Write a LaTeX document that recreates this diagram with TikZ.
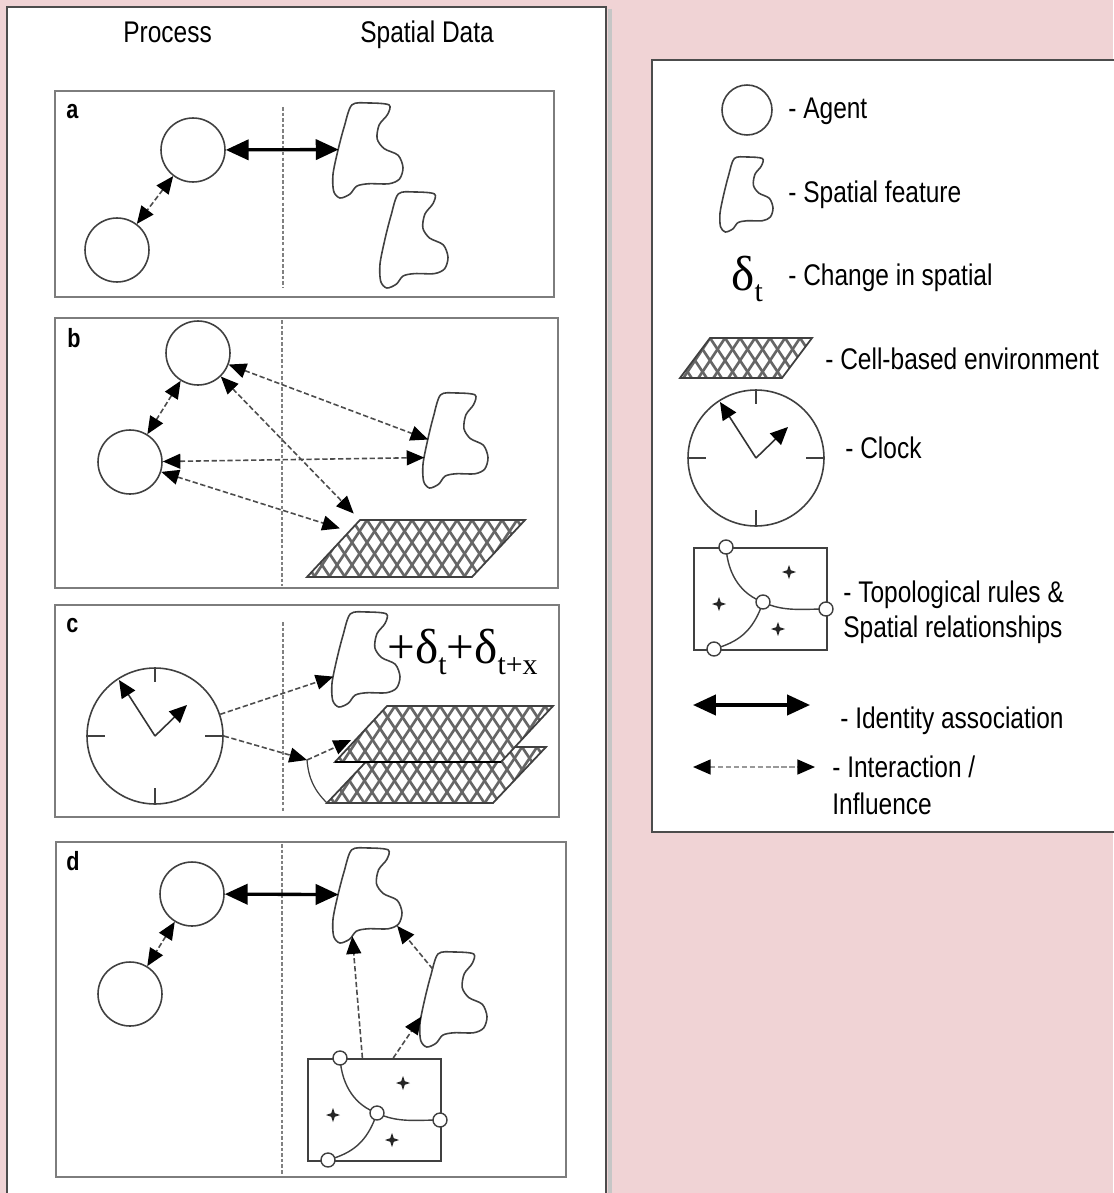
\documentclass[tikz,border=0pt]{standalone}
\usepackage{fontspec}
\setmainfont{Liberation Sans}[FakeStretch=0.82]
\newfontfamily\grkfont{Liberation Serif}
\usetikzlibrary{arrows.meta}

\definecolor{bgpink}{RGB}{240,211,213}
\definecolor{rimgray}{RGB}{125,125,125}
\newcommand\lowsub[1]{\raisebox{-0.24em}{\fontsize{17}{17}\selectfont #1}}

\tikzset{
  panel/.style={draw=rimgray, line width=1.4pt},
  divider/.style={draw=gray, line width=0.6pt, dash pattern=on 2pt off 1.2pt},
  agent/.style={circle, draw=black!75, line width=0.9pt, minimum size=1.28cm, inner sep=0pt},
  clockface/.style={circle, draw=black!75, line width=0.9pt, minimum size=2.72cm, inner sep=0pt},
  knot/.style={circle, draw=black!75, fill=white, line width=0.8pt, minimum size=0.28cm, inner sep=0pt},
  ident/.style={line width=1.9pt, {Triangle[length=13pt,width=11.5pt]}-{Triangle[length=13pt,width=11.5pt]}},
  influ/.style={line width=0.9pt, black!70, dash pattern=on 3pt off 1.5pt},
  onehead/.style={-{Triangle[length=10pt,width=8.5pt,black]}},
  twoheads/.style={{Triangle[length=10pt,width=8.5pt,black]}-{Triangle[length=10pt,width=8.5pt,black]}},
  lbl/.style={anchor=base west, inner sep=0pt, font=\fontsize{17}{20}\selectfont},
  paneltag/.style={anchor=base west, inner sep=0pt, font=\fontsize{15}{18}\selectfont\bfseries},
  pics/feature/.style 2 args={code={
    \begin{scope}[xscale=#1, yscale=#2]
      \draw[black!75, line width=0.9pt] plot[smooth cycle] coordinates {(0.27,0.02) (0.51,0.0) (0.80,0.02) (0.78,0.12) (0.66,0.23) (0.63,0.375) (0.73,0.48) (0.93,0.55) (1.0,0.68) (0.95,0.80) (0.80,0.85) (0.51,0.85) (0.34,0.875) (0.24,0.96) (0.10,1.0) (0.01,0.93) (0.0,0.75) (0.07,0.5) (0.16,0.25)};
      \coordinate (-l) at (0.08,0.49);
      \coordinate (-ll) at (0.02,0.68);
      \coordinate (-ul) at (0.19,0.18);
      \coordinate (-b) at (0.28,0.93);
      \coordinate (-br) at (0.93,0.82);
    \end{scope}
  }},
  pics/cellgrid/.style n args={3}{code={
    \begin{scope}
      \clip (0,#2) -- (#3,0) -- ({#3+#1},0) -- (#1,#2) -- cycle;
      \fill[white] (0,0) rectangle ({#1+#3},#2);
      \foreach \i in {-60,-45,...,330}
        \draw[black!60, line width=1.5pt] (\i,0) -- ++(50,75) (\i,0) -- ++(-50,75);
    \end{scope}
    \draw[black!75, line width=1pt] (0,#2) -- (#3,0) -- ({#3+#1},0) -- (#1,#2) -- cycle;
    \coordinate (-nw) at (#3,0);
    \coordinate (-w) at ({0.8*#3},{0.2*#2});
    \coordinate (-wm) at ({0.45*#3},{0.55*#2});
    \coordinate (-sw) at (0,#2);
  }},
  pics/clock/.style={code={
    \node[clockface] (-face) at (0,0) {};
    \draw[black!75, line width=0.9pt] (0,-68) -- (0,-54) (0,68) -- (0,52) (-68,0) -- (-50,0) (68,0) -- (50,0);
    \draw[black!80, line width=0.9pt, -{Triangle[length=10pt,width=9pt,black]}] (0,0) -- (-36,-56);
    \draw[black!80, line width=0.9pt, -{Triangle[length=10pt,width=9pt,black]}] (0,0) -- (32,-31);
  }},
  pics/topo/.style={code={
    \node[draw=black!75, line width=1pt, minimum width=2.66cm, minimum height=2.04cm, inner sep=0pt, anchor=north west] (-box) at (0,0) {};
    \draw[black!75, line width=0.8pt] (33,0) .. controls (35,30) and (50,48) .. (70,55) .. controls (90,65) and (110,62) .. (133,62) (70,55) .. controls (60,85) and (45,95) .. (21,102);
    \foreach \sx/\sy in {96/25,26/57,85/82}
      \fill[black!85] (\sx,\sy) +(0,-7) -- +(1.8,-1.8) -- +(7,0) -- +(1.8,1.8) -- +(0,7) -- +(-1.8,1.8) -- +(-7,0) -- +(-1.8,-1.8) -- cycle;
    \node[knot] (-k1) at (33,0) {};
    \node[knot] (-k2) at (70,55) {};
    \node[knot] (-k3) at (133,62) {};
    \node[knot] (-k4) at (21,102) {};
  }},
}

\begin{document}
\begin{tikzpicture}[x=0.02cm,y=-0.02cm]
\useasboundingbox (0,0) rectangle (1113,1193);
\fill[bgpink] (0,0) rectangle (1113,1193);
\draw[gray!45, line width=2.5pt] (610,9) -- (610,1193);
\filldraw[fill=white, draw=black!70, line width=0.8pt] (7,1200) -- (7,7) -- (606,7) -- (606,1200);
\filldraw[fill=white, draw=black!70, line width=0.8pt] (1120,60) -- (652,60) -- (652,832) -- (1120,832);

\node[lbl] (hproc) at (123,43) {Process};
\node[lbl] (hspat) at (360,43) {Spatial Data};

% a
\draw[panel] (55,91) rectangle (554,297);
\node[paneltag] (ta) at (66,118) {a};
\draw[divider] (283,107) -- (283,287);
\node[agent] (a1) at (193,150) {};
\node[agent] (a2) at (117,250) {};
\pic (fa1) at (333,103) {feature={70}{95}};
\pic (fa2) at (380,192) {feature={68}{96}};
\draw[influ,twoheads] (a1) -- (a2);
\draw[ident] (a1) -- (fa1-l);

% b
\draw[panel] (55,318) rectangle (558,588);
\node[paneltag] (tb) at (67,347) {b};
\draw[divider] (282,320) -- (282,586);
\node[agent] (b1) at (198,353) {};
\node[agent] (b2) at (130,462) {};
\pic (fb) at (423,393) {feature={65}{95}};
\pic (gb) at (307,520) {cellgrid={165}{57}{53}};
\draw[influ,twoheads] (b1) -- (b2);
\draw[influ,twoheads] (b1) -- (fb-l);
\draw[influ,twoheads,shorten >=1.8mm] (b1) -- (gb-nw);
\draw[influ,twoheads] (b2) -- (fb-ll);
\draw[influ,twoheads,shorten >=2mm] (b2) -- (gb-w);

% c
\draw[panel] (55,605) rectangle (559,817);
\node[paneltag] (tc) at (66,632) {c};
\draw[divider] (283,622) -- (283,813);
\pic (clk) at (155,736) {clock};
\pic (fc) at (332,612) {feature={68}{95}};
\node[anchor=base west, inner sep=0pt] (dlt) at (387,663) {\grkfont\fontsize{28}{28}\selectfont +δ\lowsub{t}+δ\lowsub{t+x}};
\pic (gl) at (327,747) {cellgrid={166}{56}{53}};
\pic (gu) at (335,706) {cellgrid={166}{56}{52}};
\draw[black, line width=1.2pt] (gu-sw) -- ++(166,0);
\coordinate (jc) at (307,760);
\draw[influ,onehead] (clk-face) -- (fc-ll);
\draw[influ,onehead] (clk-face.east) -- (jc);
\draw[influ,onehead,shorten >=1.6mm] (jc) -- (gu-wm);
\draw[black!75, line width=0.7pt] (jc) to[bend right=20] (gl-sw);

% d
\draw[panel] (56,842) rectangle (566,1177);
\node[paneltag] (td) at (66,870) {d};
\draw[divider] (282,844) -- (282,1175);
\node[agent] (d1) at (192,894) {};
\node[agent] (d2) at (130,994) {};
\pic (fd1) at (333,848) {feature={69}{95}};
\pic (fd2) at (420,952) {feature={67}{95}};
\pic (topo) at (307,1058) {topo};
\draw[influ,twoheads] (d1) -- (d2);
\draw[ident] (d1) -- (fd1-l);
\draw[influ,onehead] (topo-box.103) -- (fd1-b);
\draw[influ,onehead] (topo-box.70) -- (fd2-ll);
\draw[influ,onehead] (fd2-ul) -- (fd1-br);

% legend
\node[agent, minimum size=1.0cm] (lagent) at (747,110) {};
\pic (lfeat) at (720,157) {feature={53}{75}};
\node[anchor=base west, inner sep=0pt] (ldelta) at (731,290) {\grkfont\fontsize{28}{28}\selectfont δ\lowsub{t}};
\pic (lgrid) at (680,338) {cellgrid={102}{40}{30}};
\pic (lclock) at (756,458) {clock};
\pic (ltopo) at (693,547) {topo};
\coordinate (li1) at (693,705);
\coordinate (li2) at (810,705);
\draw[ident] (li1) -- (li2);
\coordinate (lf1) at (693,767);
\coordinate (lf2) at (815,767);
\draw[influ,twoheads,black!40] (lf1) -- (lf2);

\node[lbl] (tagent) at (788,118) {- Agent};
\node[lbl] (tfeat) at (788,202) {- Spatial feature};
\node[lbl] (tdelta) at (788,285) {- Change in spatial};
\node[lbl] (tgrid) at (825,369) {- Cell-based environment};
\node[lbl] (tclock) at (845,458) {- Clock};
\node[lbl] (ttopo1) at (843,602) {- Topological rules \&};
\node[lbl] (ttopo2) at (843,637) {Spatial relationships};
\node[lbl] (tident) at (840,728) {- Identity association};
\node[lbl] (tinfl1) at (832,777) {- Interaction /};
\node[lbl] (tinfl2) at (832,814) {Influence};
\end{tikzpicture}
\end{document}
